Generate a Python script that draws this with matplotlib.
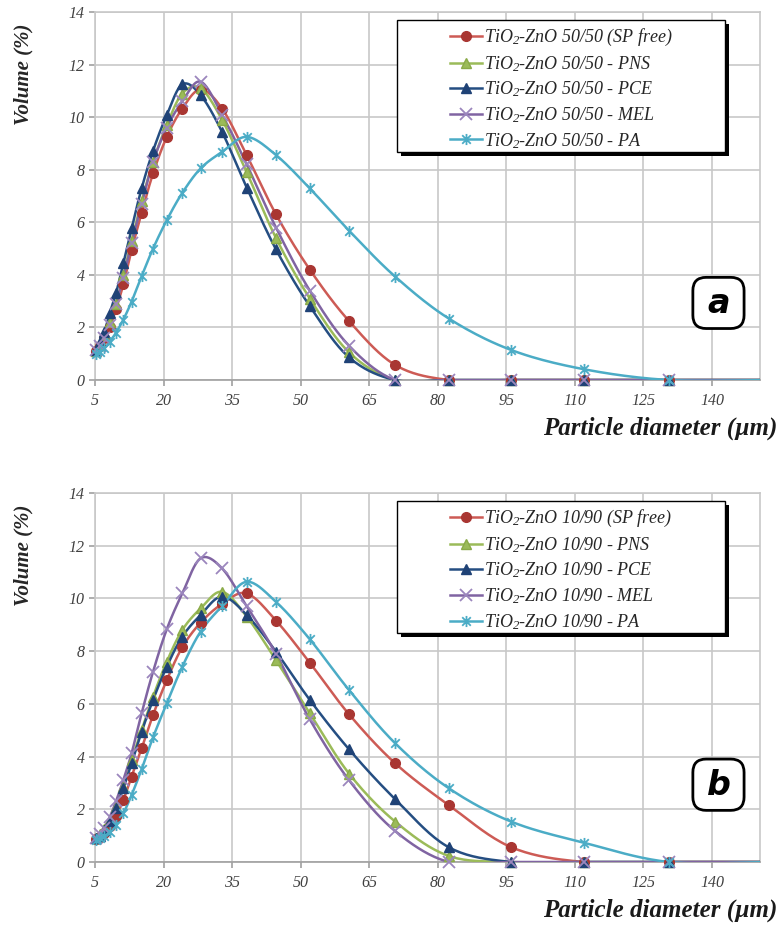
import numpy as np
import matplotlib
matplotlib.use('Agg')
import matplotlib.pyplot as plt
from matplotlib.path import Path
from matplotlib.patches import Rectangle, FancyBboxPatch

plt.rcParams['font.family'] = 'Liberation Serif'
plt.rcParams['mathtext.fontset'] = 'custom'
plt.rcParams['mathtext.rm'] = 'Liberation Serif:italic'
plt.rcParams['mathtext.it'] = 'Liberation Serif:italic'

# particle size classes (um), last one lies beyond the axis
diam = [5.19, 6.05, 7.05, 8.22, 9.59, 11.2, 13.0, 15.2, 17.7, 20.7, 24.1, 28.1,
        32.8, 38.2, 44.6, 52.0, 60.6, 70.7, 82.4, 96.1, 112.0, 130.6, 152.3]

# (a) TiO2-ZnO 50/50
a_sp_free = [1.1, 1.3, 1.6, 2.0, 2.7, 3.64, 4.94, 6.36, 7.86, 9.25, 10.33, 11.05,
             10.33, 8.55, 6.3, 4.2, 2.24, 0.57, 0, 0, 0, 0, 0]
a_pns = [1.1, 1.35, 1.7, 2.2, 2.9, 4.0, 5.3, 6.8, 8.3, 9.7, 10.9, 11.1,
         9.9, 7.9, 5.4, 3.1, 1.05, 0, 0, 0, 0, 0, 0]
a_pce = [1.15, 1.45, 1.84, 2.54, 3.3, 4.44, 5.77, 7.29, 8.72, 10.08, 11.25, 10.84,
         9.44, 7.32, 4.97, 2.81, 0.86, 0, 0, 0, 0, 0, 0]
a_mel = [1.15, 1.3, 1.6, 2.1, 2.9, 3.9, 5.2, 6.7, 8.3, 9.6, 10.6, 11.35,
         10.1, 8.2, 5.8, 3.4, 1.3, 0, 0, 0, 0, 0, 0]
a_pa = [0.98, 1.05, 1.2, 1.45, 1.8, 2.3, 2.98, 3.95, 5.0, 6.08, 7.12, 8.05,
        8.68, 9.25, 8.56, 7.29, 5.68, 3.93, 2.34, 1.14, 0.41, 0, 0]

# (b) TiO2-ZnO 10/90
b_sp_free = [0.88, 0.95, 1.1, 1.35, 1.75, 2.35, 3.24, 4.31, 5.58, 6.9, 8.15, 9.08,
             9.79, 10.19, 9.16, 7.56, 5.6, 3.74, 2.16, 0.56, 0, 0, 0]
b_pns = [0.9, 1.05, 1.25, 1.6, 2.1, 2.85, 3.87, 5.0, 6.27, 7.6, 8.8, 9.62,
         10.25, 9.31, 7.66, 5.64, 3.35, 1.53, 0.23, 0, 0, 0, 0]
b_pce = [0.9, 1.0, 1.2, 1.55, 2.05, 2.8, 3.74, 4.94, 6.15, 7.41, 8.55, 9.37,
         10.07, 9.37, 7.98, 6.15, 4.27, 2.38, 0.56, 0, 0, 0, 0]
b_mel = [0.9, 1.05, 1.3, 1.7, 2.3, 3.11, 4.12, 5.64, 7.22, 8.83, 10.19, 11.52,
         11.14, 9.7, 7.9, 5.41, 3.1, 1.17, 0, 0, 0, 0, 0]
b_pa = [0.85, 0.9, 1.0, 1.15, 1.4, 1.85, 2.54, 3.52, 4.73, 6.02, 7.41, 8.74,
        9.71, 10.63, 9.87, 8.45, 6.52, 4.5, 2.8, 1.53, 0.73, 0, 0]

suffixes = [' (SP free)', ' - PNS', ' - PCE', ' - MEL', ' - PA']

star = Path([(-1, -1), (1, 1), (-1, 1), (1, -1), (0, -1.3), (0, 1.3)],
            [Path.MOVETO, Path.LINETO, Path.MOVETO, Path.LINETO, Path.MOVETO, Path.LINETO])

styles = [
    dict(color='#CD5B55', marker='o', mfc='#A93632', mec='#A93632', ms=7),
    dict(color='#9BBB59', marker='^', mfc='#9BBB59', mec='#8AAA48', ms=7.5),
    dict(color='#254E82', marker='^', mfc='#1F4276', mec='#1F4276', ms=7.5),
    dict(color='#8064A2', marker='x', mfc='none', mec='#9B86BD', ms=8, mew=1.3),
    dict(color='#4BACC6', marker=star, mfc='none', mec='#4BACC6', ms=8, mew=1.3),
]


def smooth(x, y, sx, sy, n=20):
    # Catmull-Rom through the points, in screen-like scaled coordinates
    p = np.column_stack([np.asarray(x) * sx, np.asarray(y) * sy])
    p = np.vstack([p[0], p, p[-1]])
    out = []
    for i in range(1, len(p) - 2):
        p0, p1, p2, p3 = p[i - 1], p[i], p[i + 1], p[i + 2]
        t = np.linspace(0, 1, n, endpoint=False)[:, None]
        c1 = p1 + (p2 - p0) / 6
        c2 = p2 - (p3 - p1) / 6
        seg = ((1 - t) ** 3 * p1 + 3 * (1 - t) ** 2 * t * c1
               + 3 * (1 - t) * t ** 2 * c2 + t ** 3 * p2)
        out.append(seg)
    out.append(p[-2][None, :])
    out = np.vstack(out)
    return out[:, 0] / sx, out[:, 1] / sy


fig = plt.figure(figsize=(7.8, 9.26), dpi=100)

panels = [
    ([0.1218, 0.5896, 0.8526, 0.3974], [a_sp_free, a_pns, a_pce, a_mel, a_pa], '50/50', 'a', 0.62),
    ([0.1218, 0.0691, 0.8526, 0.3985], [b_sp_free, b_pns, b_pce, b_mel, b_pa], '10/90', 'b', 0.62),
]

XMAX = 150.5

for rect, series, ratio, tag, leg_bottom in panels:
    ax = fig.add_axes(rect)
    handles = []
    for vals, st, suf in zip(series, styles, suffixes):
        sx_, sy_ = smooth(diam, vals, 4.57, 26.3)
        ax.plot(sx_, sy_, color=st['color'], lw=1.8, zorder=3, clip_on=True)
        mx = [d for d in diam if d <= XMAX]
        my = [v for d, v in zip(diam, vals) if d <= XMAX]
        ax.plot(mx, my, ls='none', marker=st['marker'], mfc=st['mfc'],
                mec=st['mec'], ms=st['ms'], mew=st.get('mew', 1), zorder=4, clip_on=False)
        h, = ax.plot([], [], color=st['color'], lw=1.8, marker=st['marker'], mfc=st['mfc'],
                     mec=st['mec'], ms=st['ms'], mew=st.get('mew', 1))
        handles.append(h)

    ax.set_xlim(5, XMAX)
    ax.set_ylim(0, 14)
    ax.set_xticks(np.arange(5, 141, 15))
    ax.set_yticks(np.arange(0, 15, 2))
    ax.grid(True, color='#C8C8C8', lw=1.2)
    ax.set_axisbelow(True)
    for s in ax.spines.values():
        s.set_color('#C8C8C8')
        s.set_linewidth(1.2)
    ax.spines['bottom'].set_color('#A0A0A0')
    ax.tick_params(axis='both', colors='#A0A0A0', length=4, width=1.2, labelcolor='#404040',
                   labelsize=11.5)
    for lab in ax.get_xticklabels() + ax.get_yticklabels():
        lab.set_fontstyle('italic')
    ax.tick_params(axis='x', pad=5)

    ax.text(-0.108, 0.97, 'Volume (%)', transform=ax.transAxes, rotation=90,
            ha='center', va='top', fontsize=15, fontweight='bold', fontstyle='italic',
            color='#262626')
    ax.text(1.026, -0.13, 'Particle diameter (\u00b5m)', transform=ax.transAxes,
            ha='right', va='center', fontsize=18, fontweight='bold', fontstyle='italic',
            color='#1A1A1A')

    # legend frame with shadow
    lx0, lx1, ly1 = 0.454, 0.947, 0.978
    ax.add_patch(Rectangle((lx0 + 0.006, leg_bottom - 0.01), lx1 - lx0, ly1 - leg_bottom,
                           transform=ax.transAxes, facecolor='black', edgecolor='none',
                           zorder=5, clip_on=False))
    ax.add_patch(Rectangle((lx0, leg_bottom), lx1 - lx0, ly1 - leg_bottom,
                           transform=ax.transAxes, facecolor='white', edgecolor='black',
                           lw=1.0, zorder=6, clip_on=False))
    labels = ['TiO$_2$-ZnO ' + ratio + s for s in suffixes]
    leg = ax.legend(handles, labels, loc='upper left', bbox_to_anchor=(0.534, 0.96),
                    frameon=False, fontsize=13, handlelength=1.75, handletextpad=0.15,
                    labelspacing=0.33, borderpad=0, borderaxespad=0)
    leg.set_zorder(7)
    for t in leg.get_texts():
        t.set_fontstyle('italic')
        t.set_color('#262626')

    # panel tag
    ax.add_patch(FancyBboxPatch((0.899, 0.14), 0.077, 0.139, transform=ax.transAxes,
                                boxstyle='round,pad=0,rounding_size=0.02',
                                facecolor='white', edgecolor='black', lw=2.0, zorder=6,
                                mutation_aspect=1.8))
    ax.text(0.9375, 0.208, tag, transform=ax.transAxes, ha='center', va='center',
            fontsize=24, fontweight='bold', fontstyle='italic', family='DejaVu Sans',
            zorder=7)

fig.savefig('out.png', dpi=100)
